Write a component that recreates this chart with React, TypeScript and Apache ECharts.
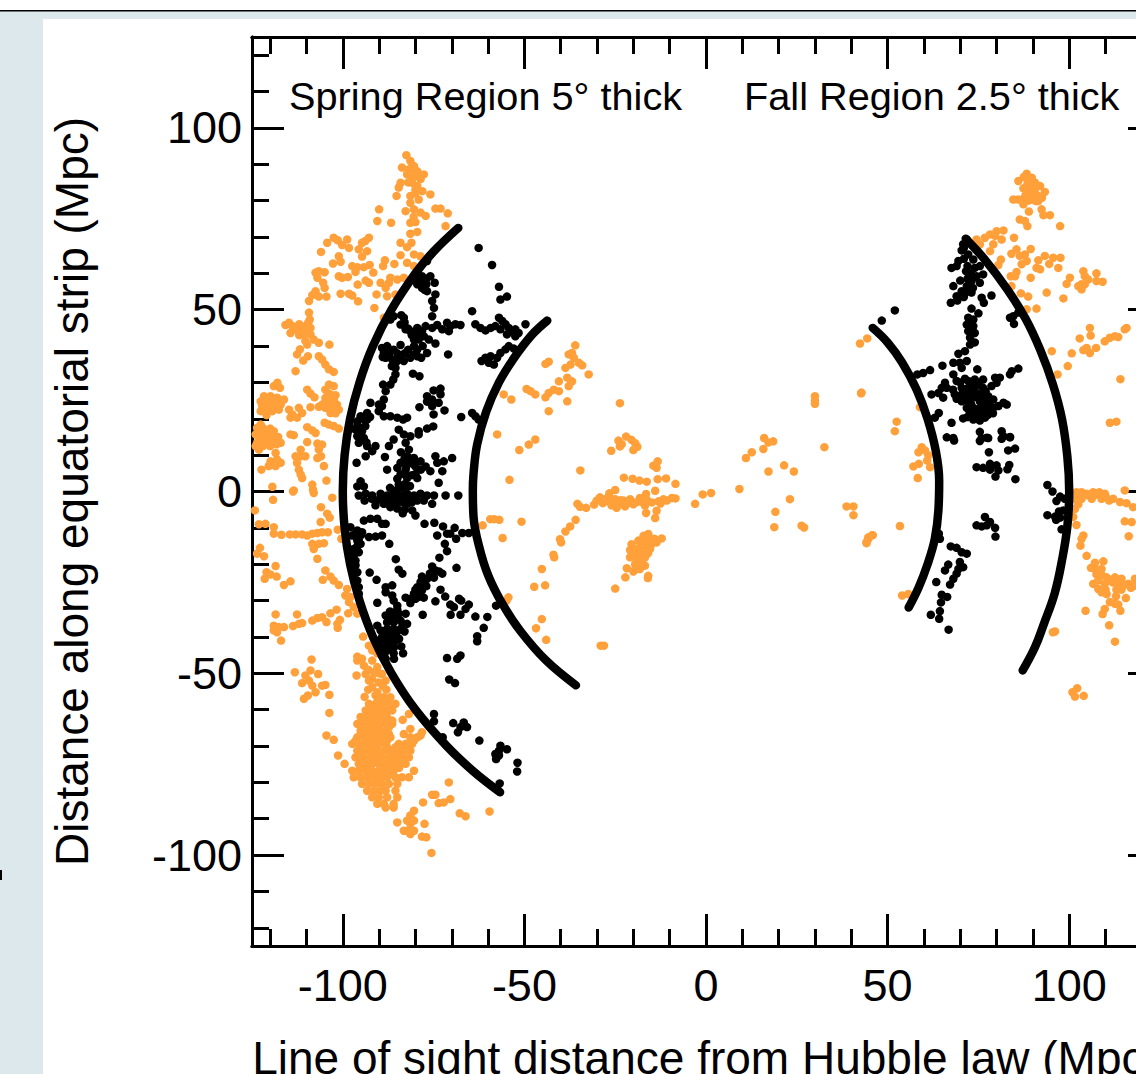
import React, { useEffect, useRef } from "react";
import * as echarts from "echarts";

const majorTicks = [-100, -50, 0, 50, 100];
const minorTicks = [-120, -110, -90, -80, -70, -60, -40, -30, -20, -10, 10, 20, 30, 40, 60, 70, 80, 90, 110, 120];
const xTitle = "Line of sight distance from Hubble law (Mpc)";
const yTitle = "Distance along equatorial strip (Mpc)";
const springLabel = "Spring Region 5° thick";
const fallLabel = "Fall Region 2.5° thick";

const orangeSpringNorth = [
[-82.5,92.5],[-81.4,90.9],[-80.4,89.5],[-83.7,89.1],[-81.8,88.6],[-79.5,88.1],[-77.7,87.2],[-82.3,87.2],[-80.4,86.8],[-78.6,85.9],[-80.9,84.9],[-79.5,84],[-84.1,84.9],[-84.6,83.6],[-85.2,81.3],[-78.1,82.6],[-75.9,81.7],[-81.4,81.3],[-79.1,80.3],[-81.4,79.4],[-82.7,77.1],[-80.4,77.6],[-78.6,76.7],[-77.2,75.8],[-74.5,77.8],[-73.1,77.8],[-71.1,76.5],[-90,77.6],[-90.5,74.4],[-86.7,73.9],[-81.4,73.9],[-80,74.1],[-81.4,70.9],[-79.5,71.4],[-71.7,73],[-84.1,68.4],[-82.3,67.2],[-81.1,68.4],[-84.1,65],[-80.4,65.2],[-78.6,64.7],[-82.3,62.9],[-80.4,62],[-88.4,63.6],[-88.9,62],[-85.8,62.6],
[-102.5,69.8],[-104.3,68.4],[-106,65.9],[-101.4,69.1],[-98.8,69.3],[-100.2,67.8],[-98.3,67],[-95.6,66.6],[-94.7,68.4],[-92.8,69.8],[-93.8,68.9],[-93.3,66.1],[-94.7,64.6],[-101.1,64.7],[-100.6,63.2],[-102.7,62.7],[-97.4,62],[-96,61.7],[-94.2,61.7],[-92.6,62.3],[-96.5,60.4],[-91.6,60.2],[-106.6,60.6],[-107.5,60.2],[-105,60.3],[-107,58.8],[-101.1,59.2],[-100.2,58.8],[-98.6,59],[-93.7,58],[-92.8,57.4],[-95.9,56.9],[-105.4,57.4],[-105,56],[-107.5,55.1],[-108.4,54],[-106.6,53.6],[-104.5,53.6],[-109.3,52.4],[-100.6,54.4],[-98.3,54.4],[-97.4,53.9],[-95.8,52.3],[-91.3,50.5],[-90.7,54.2],[-89.6,57.4],[-88.2,56],[-86.9,58.8],[-85,58.3],[-83.2,58.8],[-87.3,57.4],[-87.8,53.7],[-85.5,54.2],[-88.7,47.8],
[-109.3,49.2],[-109.1,47.3],[-114.8,46.4],[-115.8,45.8],[-113.9,45.5],[-114.4,43.6],[-112.6,45],[-111.6,44.1],[-110.3,45.5],[-108.9,45],[-110.7,43.2],[-108.9,43.2],[-110.3,41.4],[-109.8,40.4],[-108,41.8],[-106.6,40.9],[-103.7,40.4],[-111.8,39.1],[-112.6,37.7],[-109.6,37.2],[-110.9,36],[-106.6,37.2],[-105.7,36.3],[-104.8,34.9],[-103.8,33.6],[-102.5,32.9],[-113,33.1],
[-118,29.9],[-119,29],[-117.3,28.5],[-109.8,28],[-108.9,26.9],[-107.8,25.9],[-103.8,29.4],[-102.5,29],[-104.8,28],[-103.4,26.7],[-104.8,25.7],[-102.5,25.3],[-103.8,24.4],[-105.7,23.9],[-106.6,23.3],[-101.6,23.9],[-101.1,22.5],[-102.9,22.5],[-104.8,23],[-103.4,21.6],
[-121.7,26.2],[-119.9,26.2],[-118.1,25.8],[-116.2,25.3],[-122.6,24.8],[-120.8,24.8],[-119,24.4],[-117.1,23.9],[-122.2,23.5],[-120.4,23],[-118.5,23],[-122.6,22.1],[-121.3,21.9],[-119.4,22.1],[-117.6,22.5],
[-114.8,22.5],[-113.9,21.2],[-112.1,23],[-111.2,21.6],[-108.9,23.2],[-114.4,20.3],[-112.6,20.3],[-103.8,18.4],[-102.5,18],[-101.1,17.3],[-105,18.9],[-109.8,17.7],[-108.4,16.8],[-107.5,16.1],[-114.4,15.7],[-113.5,15.5],[-109.8,13.6],[-107,13.2],[-105.7,12.9],[-106.6,11.5],[-106,9.7],[-107,9.2],[-105.2,7],[-104.5,3],[-108.4,1.9],[-108.2,.5],[-111.6,11.5],[-113,9.7],[-111.6,9.7],[-110.3,9.7],[-112.6,7.9],[-112.1,6],[-111.6,4.7],[-111.2,3.7],
[-122.6,18.4],[-123.6,17.5],[-122.2,16.6],[-124,15.7],[-120.8,16.1],[-119,16.6],[-122.6,14.7],[-120.8,14.7],[-118.5,14.3],[-117.1,13.4],[-123.6,13.4],[-121.7,13.4],[-119.9,13.4],[-123.1,11.5],[-118.5,10.6],[-119.9,8.3],[-118.1,8.8],[-117.1,7.9],[-120.4,7],[-118.5,7],[-122.4,6],[-119.4,1.3],[-113.5,.3],
[-121,25.5],[-119,25.2],[-120,23.9],[-118,24.4],[-121.5,23],[-119.5,22.8],[-117,24.8],[-121,21],[-122,17.5],[-120,17.3],[-121,15.6],[-119,15.3],[-123,14.8],[-122,12.5],[-120,12.5],[-118.2,13],[-117.8,15],[-124,12.5],[-103,24],[-104,27],[-103,22.8],[-102,26.5],[-104.8,24.5],[-102,21.5],[-112,46],[-110,44],[-112,43],[-109.5,46.5],[-113.5,44.5],[-81,86],[-80,83],[-82,85],[-79,86.5],[-81,89],[-80,82],[-80.5,75.5],
];

const orangeSpringSouth = [
[-119.2,-2.3],[-124.2,-5.2],[-113.7,0],[-108,-.4],[-102.9,-1.7],[-106,-4.3],[-104.3,-6.1],[-103.6,-7.2],[-106.1,-8.4],[-101.4,-10.5],[-100.4,-13],
[-123.1,-9],[-121.3,-8.9],[-119,-9.8],[-119,-11.6],[-116.9,-11.9],[-114.6,-11.8],[-113,-11.8],[-111.2,-11.8],[-109.8,-12.1],[-108.4,-11.6],[-107,-11.4],[-105.7,-11.2],[-104.1,-11.2],[-108.4,-14.4],[-106.6,-14.4],[-105.2,-14.2],[-108,-15.8],[-107,-18.5],[-122.8,-15.5],[-123.6,-17.1],[-121.7,-17.8],[-104.8,-21.7],[-103.4,-23.4],[-102.5,-24.5],[-105.5,-24.3],[-101.1,-25.7],[-118.5,-20.5],[-121,-22.2],[-119.9,-22.8],[-118.2,-23.4],[-121.5,-24],[-114.4,-24.7],[-116.2,-25.7],[-98.8,-26.8],[-99.3,-28.6],[-97.9,-29],[-98.3,-30.4],[-97,-31.8],[-96,-33.6],[-98.5,-33.5],[-101.7,-32.5],[-103.4,-33.5],[-105.7,-34.6],[-107,-34.8],[-108.4,-35.5],[-104.5,-35.9],[-100.8,-35.3],[-101.5,-36.4],[-101.4,-37.5],[-112.6,-33.8],[-118.5,-33.8],[-111.2,-36.2],[-112.1,-36.4],[-113.7,-37],[-119,-36.9],[-117.6,-37.3],[-116.2,-37.3],[-119,-38.2],[-118.1,-38.7],[-117,-41],[-94.4,-39.9],
[-92.8,-42.4],[-91.9,-43.7],[-96,-45.4],[-94.7,-46],[-96,-46.5],[-94.2,-47.9],[-91.9,-46.5],[-90.5,-48.3],[-89.2,-50.2],[-91.4,-49.7],[-93.7,-50.2],[-96.2,-50.6],[-91.9,-51.5],[-90.1,-52.5],[-88.2,-52],[-91.9,-53.8],[-90.5,-55.2],
[-113.2,-49.7],[-108.6,-46.2],[-108.9,-49.2],[-110.3,-50.6],[-106.8,-50.2],[-111.2,-52.7],[-109.3,-52],[-108.4,-53.4],[-107.5,-55.2],[-105.7,-53.4],[-104.8,-53.2],[-103.7,-55.9],[-109.6,-56.1],[-110.7,-57],[-103.7,-60.9],[-104.5,-67.1],[-102.5,-68.3],[-101.3,-72.6],[-99.5,-74.9],
[-90.5,-56.6],[-88.7,-56.6],[-86.9,-56.6],[-92.8,-58.4],[-91,-58.4],[-89.2,-58.4],[-87.3,-58.4],[-85.5,-58.4],[-93.7,-60.2],[-91.9,-60.2],[-90.1,-60.2],[-88.2,-60.2],[-86.4,-60.2],[-95.1,-62],[-93.3,-62],[-91.4,-62],[-89.6,-62],[-87.8,-62],[-96,-63.9],[-93.7,-63.9],[-91.9,-63.9],[-90.1,-63.9],[-88.2,-63.9],[-86.4,-63.9],[-95.1,-65.8],[-93.3,-65.8],[-91.4,-65.8],[-89.6,-65.8],[-87.8,-65.8],[-96,-67.6],[-94.2,-67.6],[-92.4,-67.6],[-90.5,-67.6],[-88.7,-67.6],[-86.9,-67.6],
[-97.4,-69.4],[-95.6,-69.4],[-93.7,-69.4],[-91.9,-69.4],[-90.1,-69.4],[-88.2,-69.4],[-84.6,-69.4],[-82.7,-69.4],[-80.9,-69.4],[-96,-71.3],[-94.2,-71.3],[-92.4,-71.3],[-90.5,-71.3],[-88.7,-71.3],[-86.9,-71.3],[-85,-71.3],[-83.2,-71.3],[-81.4,-71.3],[-96.5,-73.1],[-94.7,-73.1],[-92.8,-73.1],[-91,-73.1],[-89.2,-73.1],[-87.3,-73.1],[-85.5,-73.1],[-83.7,-73.1],[-81.8,-73.1],[-95.6,-74.9],[-93.7,-74.9],[-91.9,-74.9],[-90.1,-74.9],[-88.2,-74.9],[-86.4,-74.9],[-84.6,-74.9],[-82.7,-74.9],
[-97.4,-76.8],[-95.6,-76.8],[-93.7,-76.8],[-91.9,-76.8],[-90.1,-76.8],[-88.2,-76.8],[-86,-76.8],[-80.4,-76.8],[-97,-78.6],[-95.1,-78.6],[-93.3,-78.6],[-91.4,-78.6],[-89.6,-78.6],[-87.8,-78.6],[-85.5,-78.6],[-83.7,-78.6],[-81.8,-78.6],[-94.7,-80.4],[-92.8,-80.4],[-91,-80.4],[-89.2,-80.4],[-87.3,-80.4],[-85,-80.4],[-93.3,-82.3],[-91.4,-82.3],[-89.6,-82.3],[-88.2,-82.3],[-85.5,-82.3],[-91.9,-84.1],[-90.1,-84.1],[-87.8,-84.1],[-85,-84.1],[-90.5,-85.9],[-88.7,-85.9],[-86,-85.9],[-88.2,-86.9],[-86,-86.9],
[-81.8,-61.2],[-83.5,-62.8],[-86.4,-63],[-81.4,-65.3],[-83.2,-66.7],[-81.4,-67.6],[-79.5,-67.6],[-78.2,-66.2],[-78.6,-67.1],[-80.4,-68.5],
[-70.8,-80],[-75.4,-83.4],[-74.5,-83.4],[-77.9,-85.5],[-73.6,-85.7],[-72.2,-85.5],[-70.4,-84.6],[-67.8,-88.5],[-66.2,-89.3],[-59.6,-88],[-85,-91],[-80.4,-87.8],[-81.4,-89.1],[-82.3,-90.5],[-80.4,-90.5],[-83.2,-93.3],[-81.4,-91.4],[-82.3,-93.3],[-80.4,-93.3],[-81.4,-94.2],[-77.5,-91.4],[-78.2,-94.9],[-77,-95.1],[-75.6,-99.4],
[-89.6,-57.5],[-87.8,-57.5],[-91.9,-59.3],[-89.6,-59.3],[-86.9,-59.3],[-92.8,-61],[-90.5,-61],[-88.2,-61],[-94.2,-63],[-92,-63],[-89.6,-63],[-87.3,-63],[-94.7,-64.8],[-92.4,-64.8],[-90,-64.8],[-87.3,-64.8],[-95,-66.7],[-92.4,-66.7],[-89.6,-66.7],[-87.3,-66.7],[-96.5,-68.5],[-93.3,-68.5],[-90.5,-68.5],[-87.8,-68.5],[-85.5,-70.3],[-83.7,-70.3],[-81.8,-70.3],[-87.8,-70.3],[-92,-70.3],[-94.8,-70.3],[-95.3,-72.2],[-92.5,-72.2],[-89.5,-72.2],[-86.5,-72.2],[-84,-72.2],[-95,-75.9],[-92.5,-75.9],[-89.5,-75.9],[-87,-75.9],[-92,-77.7],[-89,-77.7],[-86.5,-77.7],[-84.5,-76],
[-90.5,-44.5],[-93,-49],[-90,-50],[-92.8,-52],[-89,-53.5],[-93,-54.5],[-91,-56],[-94,-56.5],[-88,-54.5],
];

const orangeCentre = [
[-55.7,26.7],[-53.6,25.3],[-57.5,15.7],[-49.4,28.2],[-48.3,27.6],[-47,26.7],[-44.2,25.9],[-43.3,27.1],[-41.9,28],[-40.5,27.6],[-40.5,30.3],[-38.2,31.3],[-36.9,30.3],[-37.8,29],[-38.2,24.8],[-43.3,22.1],[-32.3,32.2],[-44.2,35.1],[-43.3,35.7],[-38.7,34],[-37.3,34.9],[-37.8,37.7],[-36,40.2],[-36.4,36.8],[-35,35.4],[-34.1,34.7],[-36.9,38.1],[-47,14.3],[-48.8,12.9],[-51.4,11.4],[-34.6,5.8],[-54.1,3.2],
[-23.7,24.3],[-24.1,14],[-23.2,13],[-23.7,12.4],[-26.1,11.2],[-22,15.1],[-20.5,14.2],[-19.5,13.3],[-18.9,12.3],[-20,11.4],[-14.5,7.1],[-13.3,8.3],[-13.6,6.5],[-22.6,3.8],[-20.2,3.5],[-18.3,3],[-16.3,2.7],[-13.3,3.4],[-11,3.6],[-8.4,2.1],[-14,.2],[-25,.4],[-26.6,-.5],
[-35.4,-3.4],[-34.7,-4.2],[-33,-4.5],[-30.8,-3.6],[-30.1,-2.5],[-29.2,-1.6],[-28.4,-3.2],[-26.9,-2.7],[-25,-2.1],[-24.1,-3.3],[-24.6,-4.5],[-22.7,-2.5],[-22.3,-4.1],[-20.9,-2.1],[-19.3,-3],[-18.2,-1.8],[-16.5,-.7],[-16.3,-2.3],[-16.8,-3.9],[-16.5,-5.9],[-14.9,-3],[-13.6,-5.3],[-14,-7.3],[-13.1,-2.7],[-11.7,-2.1],[-10.8,-2.5],[-9.4,-1.8],[-8.4,-1.9],[-3,-3.4],[-.9,-.8],[1.4,-.4],[9.2,.7],
[-35.9,-7.8],[-37.4,-9.6],[-38.7,-11],[-40.2,-13.1],[-39.9,-14],[-42,-17.4],[-41.8,-18.1],[-45.2,-21.3],[-47.3,-26.2],[-44.3,-25.8],[-54.4,-29.1],[-54.9,-30],[-45.2,-35.1],[-46.8,-37.6],[-44,-40.8],[-29,-42.4],[-28.1,-42.4],[-58.3,-7.6],[-56.9,-7.8],[-59.4,-7.6],[-61.5,-9.3],[-50.8,-8.3],[-56,-12.8],
[-15.9,-11.7],[-17.2,-12.2],[-12.2,-12.9],[-13.6,-14],[-15,-14.5],[-16.8,-14],[-18.6,-13.5],[-20.5,-14.5],[-20.9,-16.1],[-19.1,-15.8],[-17.2,-16.3],[-15.4,-15.8],[-20.9,-18.1],[-18.2,-17.7],[-16.8,-18.1],[-18.2,-19.5],[-19.5,-20],[-16.8,-20.4],[-21.8,-21.1],[-20,-22],[-18.2,-21.3],[-22.2,-23.6],[-15.9,-23.2],[-16,-23.8],[-25,-26.7],
[30,26.2],[30,25],[30,24.1],[42.8,27.2],[32.6,12.2],[16,14.7],[17.2,13.5],[18.5,13.8],[15.8,11.7],[12.6,10.8],[11,9.2],[21.5,7.2],[17.2,5.5],[24.2,5.5],[23.1,-2.1],[19.1,-5.6],[18.8,-9.8],[26.3,-9.4],[27,-9.9],[38.7,-4.1],[40.6,-4.1],[40.6,-6.5],[45.9,-12],[44.7,-12.6],[44.2,-14.2],
[-18,-15],[-17,-17],[-19,-18.5],[-17.5,-19.5],[-19.5,-17],[-16,-17],[-18.5,-20.5],[-17,-14.7],[-15.5,-13.2],[-14.2,-13],[-19.5,-21.5],[-27,-1.6],[-21.5,-3.2],[-23.5,-2.4],[-18,-2.8],[-12.5,-3.3],[-20,-3.5],[-26,-3.8],
];

const orangeFall = [
[88.3,87.4],[89.7,86.3],[86,85.4],[88.7,85.4],[90.6,84.9],[92,84],[87.4,83.4],[89.2,83.1],[93.3,82.4],[90.1,81.7],[91.5,81.3],[84.6,80.3],[86,80.3],[87.8,80.8],[89.7,80.3],[91.5,79.9],[87.4,79],[92.4,77.6],[88.9,77],[92.9,76],[94.7,76],[86.4,74.8],[87.8,74.4],[88.5,73],[97.5,73],
[81.9,71.8],[80,71.6],[78.2,70.7],[79.6,70.3],[81.4,69.3],[84.8,69.8],[76.8,69.8],[74.5,69.3],[75.4,68],[79.1,68],[78.2,66.1],[81.2,63.8],[80.5,62.3],
[89.4,66.7],[85.5,66.6],[84.1,65.4],[86.4,64.8],[87.8,65.2],[93.3,64.8],[95.6,64.3],[97.6,64.3],[88.3,63.4],[86.9,62.5],[91.5,63.6],[91,61.5],[92,61.1],[94.5,62.6],[97,61.5],[85.5,60.4],[83.9,59.2],[85.1,59.2],[89.4,58.8],
[103.9,60.6],[104.3,59.2],[107.5,60],[100.2,58.8],[99.3,57.1],[105.2,58.3],[103.4,57],[102.5,56.5],[104.3,57],[107.5,57.9],[109.2,57.7],[103.4,55.6],
[84.1,56.5],[86.7,54.5],[88.7,53.6],[93.8,54.7],[98.4,53.1],[91,50.3],[88.3,50.1],
[105.7,45],[105.9,42.9],[102.9,42.1],[115.8,45],[115.3,44.6],[112.6,42.7],[111.2,42.3],[109.8,41.3],[113.5,42.5],[107.4,39.5],[104.8,39.5],[103.9,38.9],[105.7,38.1],[100.7,38],[95.2,38.6],[99.6,34.5],[96.8,32.2],[114.1,30.9],[111.2,18.9],[113,19.2],
[44.4,42.1],[42.4,40.7],[42.7,27],[52.5,19.2],[52,16.6],[58.9,23.2],
[59.4,12.2],[58.5,10.8],[60.3,11.3],[61.2,10],[60.9,8.5],[61.7,6.7],[58.6,7.6],[57.1,6.9],[58.3,3.7],[53.4,-9.5],[45.8,-12],[44.2,-13.9],[44.7,-13],[54,-28.6],[55.7,-28.2],
[96.1,-38.5],[95.5,-38.7],[100.9,-55.2],[102.2,-54.1],[101.6,-56.4],[104,-56.2],
[102,-.2],[103.4,-.2],[104.8,-.6],[106.6,-.2],[108.3,-.2],[109.8,-.6],[115.3,.3],[101.6,-2],[103.4,-2],[106.2,-2],[108.9,-2],[112.1,-2],[114,-2.9],[115.8,-3.2],[117.6,-4.3],[101.6,-4.8],[101.1,-7],[102,-9.2],[115.3,-8.2],[117.2,-8.4],[116.4,-12.3],[103.9,-12.1],[103.4,-13],[103.1,-14.9],[104.8,-17.7],
[107.1,-19.6],[109.4,-19.2],[107.1,-21.3],[108.9,-21.3],[107.5,-22.8],[110.3,-23.6],[112.6,-23.6],[114.4,-24],[118.1,-24],[106.6,-25.4],[108,-26.8],[109.8,-25.4],[113.5,-25.4],[116.3,-25.4],[118.1,-25.9],[114.4,-27],[108.9,-27.7],[110.3,-28.2],[112.9,-28.8],[115.6,-29.3],[111.2,-30.4],[112.6,-30.9],[113.5,-31.1],[109.8,-32.3],[104.5,-32.8],[114.1,-32.8],[109.2,-33.7],[111,-36.8],[112.6,-41.3],
[89,82],[90.5,82.5],[88,81.5],[90,83.7],[88.5,84.5],[87.5,86.5],[88.8,80],[90.8,79.9],[92.5,80.8],[111,-24.5],[108,-24.5],[115,-25.8],[117,-26.5],[112,-25],[109,-23],[106,-21],[110,-27],[113,-27],[105,-1],[107,-1],[103,-1],[102.5,-3.5],[110,-1.2],[111,-2.5],
];

const blackSpring = [
[-62.6,67],[-58.9,62.3],[-57,56.3],[-54.8,53.6],[-56.6,52.8],[-64.4,49.6],[-49.7,46],
[-63.5,46],[-62.1,45],[-60.7,44.3],[-59.3,45],[-58,45.5],[-57,47.8],[-56.1,46.9],[-55.2,46],[-56.6,44.6],[-54.3,45],[-53.4,44.1],[-54.8,43.2],[-52.5,44.6],[-51.6,43.6],[-52.5,42.7],[-54.3,40],[-52.9,39.3],[-55.2,39.1],[-56.6,38.1],[-57.5,36.8],[-59.3,37.2],[-60.7,36.8],[-61.8,35.9],[-59.8,35.4],[-58.4,34.9],
[-77.2,45.5],[-75.4,45],[-74,45.8],[-72.6,44.6],[-71.3,46.4],[-70.4,45.5],[-70.8,44.1],[-69,46],[-67.6,45.8],
[-83.9,48.5],[-86.9,47.3],[-86,48.2],[-83.2,47.8],[-84.1,45.9],[-82.7,44.6],[-81.4,44.1],[-79.5,45],[-78.2,44.1],[-80,43.2],[-77.7,42.7],[-80.4,41.8],[-79.1,41.8],[-76.3,41.8],[-74.5,40.7],[-80.4,40],[-79.5,39],[-76.8,38.1],[-71,37.7],[-84.1,40.3],[-89.2,39.5],[-87.8,40],[-88.7,38.1],[-87.3,37.7],[-88.2,36.8],[-86.4,36.3],[-85,35.9],[-83.2,35.9],[-81.4,36.8],[-79.5,37.2],[-78.4,36.8],[-80.4,37.7],[-85.5,34],[-80.7,32.4],[-78.9,31.7],[-85.5,32.2],[-86.1,30.8],[-88.9,29.4],[-86.9,29.4],[-88.2,27.6],[-88.7,25.3],[-90.1,23.9],[-92.4,24.4],[-89.2,23.5],[-90.1,22.1],[-88.7,20.7],[-86.9,20.7],[-85,20.3],[-83.4,19.8],[-82.3,20.3],
[-80,58.8],[-78.2,59.2],[-75.9,59.2],[-79.5,57],[-78.2,56],[-76.8,55.1],[-74.7,57.4],[-74.5,54.2],[-75.4,52.4],[-74.9,50.5],[-75.4,48.2],[-76.8,63.4],
[-73.1,28.3],[-75,27.8],[-73.1,26.7],[-76.8,26.2],[-75.4,25.3],[-76.8,24.7],[-73.6,24.4],[-75.4,23.5],[-72,22.3],[-75,21.2],[-78.9,23.2],[-67.4,20.5],[-64.4,21.6],[-63.5,20.7],[-62.6,19.8],
[-93.3,21.6],[-95.1,20.7],[-93.3,19.8],[-96,19.3],[-93.8,18],[-96.5,17],[-94.7,16.6],[-96,15.2],[-94.2,14.7],[-95.6,13.4],[-93.3,12.5],[-91,12.5],[-91.9,11.1],[-93.7,9.7],[-96.2,7.9],[-88.4,9.5],[-87.8,6],
[-87.3,12.5],[-86,14.3],[-84.6,17],[-83.2,15.7],[-81.4,15.2],[-79.1,16.6],[-76.8,17.3],[-75.1,17.9],[-79.1,15.7],[-82.7,13.4],[-81.8,11.5],[-82.3,9.7],[-80.4,9.2],[-84.1,7.9],[-81.8,7.9],[-78.6,8.3],[-85,6.5],[-82.7,6],[-80,6.9],[-77.2,6.9],[-75.9,5.6],[-84.1,4.7],[-82.3,3.7],[-79.5,3.7],[-84.6,1.9],[-83.2,.9],[-95.1,2.8],[-96,1.4],[-94.2,1.4],[-74.5,9.7],[-74,7.9],[-72.2,8.3],[-69.9,9.2],[-72.6,5.6],[-73.6,2.4],
[-95.6,-1.1],[-93.7,-.6],[-91.9,-1.1],[-89.6,-.6],[-87.8,-1.1],[-86,-.6],[-84.1,-1.1],[-82.3,-.6],[-80.4,-1.1],[-78.6,-.6],[-76.8,-1.1],[-74.9,-1.1],[-71.7,-1.1],[-68.2,-1.1],[-91,-3.8],[-88.7,-3.4],[-86.9,-2.5],[-85,-2.5],[-86.9,-4.3],[-85,-4.7],[-82.3,-3.4],[-80.9,-5.2],[-80,-6.6],[-75.4,-3.4],[-77.7,-2.5],
[-94.2,-8],[-92.4,-7.5],[-90.5,-7.5],[-89.2,-8.9],[-88.2,-8.9],[-77.5,-8.9],[-74.8,-8.6],[-72.4,-9.6],[-69.2,-10],[-74,-12.1],[-71.3,-11.6],[-70.4,-11.6],[-68.8,-13],[-67.1,-11.4],[-65.3,-11.4],[-71.9,-14.4],[-71.3,-16.4],[-73.4,-18.2],[-85.4,-18.6],[-87.2,-14.4],
[-97.9,-9.8],[-96,-10.7],[-97.4,-12.1],[-94.7,-11.2],[-95.6,-13],[-92.8,-12.5],[-91,-12.4],[-89.2,-12.1],[-97,-15.8],[-95.1,-14.4],[-95.6,-16.7],[-97,-17.6],[-96.5,-20.3],[-96,-22.2],[-92.6,-22.3],[-90.7,-24.3],[-96,-24.5],[-95.6,-26.3],[-95.6,-28.1],[-90.5,-30.6],
[-84.6,-21.5],[-83.6,-22.6],[-68.7,-21],
[-75.4,-20.6],[-74.5,-21.7],[-72.6,-22.6],[-74.9,-23.7],[-76.8,-24],[-78.2,-23.4],[-78.6,-24.9],[-79.5,-26.3],[-78.2,-27.2],[-80.4,-28.1],[-79.1,-29],[-81.4,-29.5],[-82.7,-29.2],[-77.7,-29.2],[-81.4,-30.7],
[-88.2,-26.3],[-86.4,-25.8],[-88.2,-27.7],[-86.4,-28.6],[-86,-30],[-85,-31.4],[-86.4,-33.6],[-84.6,-33.6],[-82.7,-33.6],[-88.2,-34.1],[-87.8,-36],[-86,-36],[-84.1,-35.5],[-82.3,-36.4],[-89.6,-38.2],[-87.8,-37.8],[-86,-37.8],[-84.1,-37.8],[-89.2,-40],[-87.3,-39.6],[-85.5,-39.6],[-90.5,-36.9],[-88.7,-41.9],[-86.9,-41.4],[-87.8,-43.7],[-85.9,-42.8],[-83.9,-42.6],[-83.4,-44.5],[-85.9,-46],[-88.2,-46],
[-78,-33.9],[-73.1,-27],[-71.8,-28.9],[-74.5,-30.2],[-70.4,-31.1],[-69.4,-31.8],[-68,-29.5],[-67.4,-30],[-65.3,-31.1],[-66.2,-32.3],[-67.6,-33.9],[-70.3,-33.9],[-63.5,-34.4],[-60.2,-34.5],[-61.2,-37.5],[-63,-39.8],[-63,-41.2],[-57.8,-31.4],
[-71.3,-45.8],[-67.6,-45.1],[-68.5,-46],[-70.7,-51.7],[-69.1,-52.7],[-74.9,-61.2],[-74.9,-63.2],[-69.6,-63.7],[-66.7,-63.5],[-67.6,-64.8],[-65.8,-64.8],[-68.3,-66.2],[-72.5,-67.6],[-62.4,-68.5],[-56.6,-69.9],[-54.8,-70.9],[-57,-71.3],[-58,-72.2],[-57,-72.6],[-57.8,-73.6],[-51.9,-74.6],[-52,-77],[-56.8,-80.3],
[-86,39],[-85,38],[-83,38],[-82,39],[-80.5,42.8],[-79,43.5],[-81,43],[-86.5,34.5],[-84,37],[-78,40],[-82,44.8],[-87,39],[-89,37],[-83,46.5],
[-88.5,-2],[-86,-1.8],[-84,-2.5],[-83,-1.5],[-87,1],[-85,.5],[-83,2],[-81.5,1.5],[-81,4.5],[-83,5],[-85,3.5],[-83.5,-3],[-85.5,-3.8],[-82,-2],[-79.5,-2.5],[-81,-3],[-83,-5],[-82.5,7],[-83,9],[-84,10.8],[-81,9],[-80.5,7.5],[-78.5,6],[-80,4.8],[-86,-4],[-83.5,-6],[-92,-2],[-90,-2.2],[-94,-2.5],
[-87,-35],[-85,-35],[-83.5,-36.5],[-86.5,-38.5],[-85,-38.5],[-88.5,-38.5],[-87,-40.5],[-85.5,-41],[-88,-40.5],[-90,-41],[-89,-43],[-87,-43],[-86,-44.5],[-88.5,-44.5],[-84.5,-40.5],[-83,-38.5],[-87,-33],[-85,-32.5],
[-94.5,20],[-96,18],[-95,17.5],[-95,15.5],[-93.5,13.5],[-92.5,20.5],[-95,-12],[-96.5,-11.5],[-96,-13.5],[-96,-15],[-96.5,-19],
[-79,58.5],[-78.5,57.5],[-77,57],[-77,58.5],[-77.5,55.5],[-79,-28],[-80,-27],[-78,-25.5],[-77,-26],[-80,-29.5],[-76,-22.5],[-73.5,-22],
];

const blackFall = [
[52,49.8],[48.4,47],
[71.8,69.3],[70.8,68],[70.4,66.3],[72.2,65.2],[69.5,63.4],[67.6,61.5],[69,62],[71.6,60.6],[73.6,63.8],[74,61.5],[75.4,62],[76.3,59.7],[74.5,59.2],[73.1,57.9],[75.4,57.4],[68.1,56.5],[71.8,56.5],[70.4,55.1],[69,53.7],[73.1,54.7],[75.9,53.3],[76.5,51.9],[78.6,53.9],[67.4,51.9],[69.2,52.5],
[73.1,50.3],[75,49],[72.2,47.8],[73.6,47.3],[71.8,45.9],[73.6,45.5],[72.2,44.1],[74,43.6],[72.7,42.3],[72.7,40.4],[71.3,38.6],[69.5,37.9],[68.1,35.4],[69.9,35.4],[71.8,35.9],[70.4,34],[65.1,34.6],[74.7,33.6],
[84.6,48.2],[86,49.2],[83.7,47.8],[84.8,46.1],[58.2,32.2],[59.8,32.6],[61.7,33.4],[86,33.8],[84.2,33.1],[83.7,32.2],
[68.1,32.2],[69,30.4],[65.8,29.9],[64.9,28.5],[66.3,28.5],[64,27.1],[62.1,26.7],[65.3,25.8],
[72.2,30.4],[74,30.8],[76.3,30.8],[79.6,31.3],[80.9,31.3],[80,29.9],[78.6,29],
[70.4,28.5],[72.2,28.5],[74,28.5],[76.3,28.5],[68.5,26.7],[70.4,26.7],[72.2,26.7],[75.9,27.1],[77.7,26.2],
[70.4,24.8],[72.2,24.8],[75.4,24.8],[77.3,24.8],[79.1,25.3],
[71.8,23],[73.6,23],[75.4,23],[77.3,23],[79.1,23],[80.5,23.5],[81.9,24.4],[82.8,23.9],
[72.7,21.6],[74.5,21.2],[76.3,21.2],[78.2,22.1],[70.8,20.1],[73.6,19.8],[75.4,19.5],[76.8,20.3],
[64.1,21.6],[63,20.3],[67.6,18.9],
[66.3,14.9],[68.1,14.7],[75.4,16.4],[81.4,16.6],[81.9,15.2],[83.7,14.9],[77.7,14.7],[75.9,14.6],
[68.3,14],[75.4,13.9],[77.3,14.8],[81.4,14.5],[83.7,15],[83.2,11.3],[85.1,11.8],[77.9,10.8],
[74.5,6.7],[76.3,6.5],[78.2,7.6],[78.2,6],[80,7.2],[80.5,5.8],[79.7,4.1],[83.5,7.3],[83,6.1],[85.2,3.4],
[94,1.8],[95.4,0],[97.5,-1.4],[96.5,-2.6],[98.8,-2],[94,-6.5],[97.2,-5.5],[96.1,-6.9],[97.5,-7.2],[98.4,-5.2],[96.4,-7.8],[97.9,-10.4],
[76.8,-7],[74.5,-9.3],[75.9,-9.6],[77.3,-9.3],[78.2,-8.4],[79.6,-10],[79.7,-12.4],
[64.1,-11.6],[64.4,-13],[67.4,-15.1],[69,-15.5],[70.4,-16.7],[71.8,-17.1],[69.9,-19.4],[70.8,-20.8],[69.5,-21.3],[66.7,-20.1],[65.8,-21.7],[69,-22.6],[68.1,-24],[67.2,-25.6],[63.4,-24.9],[64.9,-28.4],[66.4,-29],[64.7,-30.5],[64.4,-32.9],[61.9,-33.9],[64.2,-35],[66.8,-38],
[73,25.5],[74.5,26],[71,25.5],[73,24],[74,22.5],[72.5,22.3],[75.5,21.8],[74,27.5],[71,27.5],[73,29.5],[75,29.5],[77,27.5],[76.5,25.8],[78,24],[74.5,20],[72,20.5],[77.5,21],[69,25.5],[68,28],[70,30],[71.3,31],[76,23.9],[73.5,30],[79,21.5],
[72,62],[73,60],[72,58.5],[73.5,56],[72,55],[71,53.5],[74,59],[70,58],[71,64],[71,67],[72.5,47],[73,44.5],[74,41],
];

// Boundary arcs
const springOuter = [[-68.2,72.5],[-75,66],[-80,60],[-86.6,50],[-91.7,40],[-95.4,30],[-98,20],[-99.5,10],[-100,0],[-99.5,-10],[-98,-20],[-95.4,-30],[-91.7,-40],[-86.6,-50],[-80,-60],[-71.4,-70],[-64,-77],[-56.7,-82.7]];
const springInner = [[-43.7,47],[-48,43],[-53,36.5],[-57,30],[-60.5,22],[-63,13],[-64,5],[-64.2,0],[-64,-7],[-62.5,-15],[-60,-23],[-56,-31],[-51,-38.5],[-44,-46.5],[-35.8,-53.3]];
const fallInner = [[45.9,45],[50,41],[54,35.5],[58,28],[61,20],[63.3,11],[64.2,3],[64,-5],[63,-13],[61,-20],[58.5,-26.5],[55.8,-31.9]];
const fallOuter = [[71.5,69.5],[77,63.5],[83,55.5],[88,47.5],[92,39],[95.5,29.5],[98,20],[99.5,9.5],[100,0],[99.5,-9.5],[98,-19],[96,-28],[93,-36.5],[90.5,-43],[87.2,-49.2]];

const FONT = '"Liberation Sans", Arial, sans-serif';

const axisBase = {
  type: "value" as const,
  min: -125,
  max: 125,
  splitLine: { show: false },
  axisLine: { show: true, onZero: false, lineStyle: { color: "#000", width: 3 } },
};

function xAxisOf(position: string, values: number[], length: number, labelled: boolean) {
  return {
    ...axisBase,
    position,
    name: labelled ? xTitle : undefined,
    nameLocation: "middle",
    nameGap: 89,
    nameTextStyle: { fontFamily: FONT, fontSize: 46, color: "#000" },
    axisTick: { show: true, inside: true, length, customValues: values, lineStyle: { color: "#000", width: 3 } },
    axisLabel: labelled
      ? { show: true, customValues: majorTicks, margin: 17, fontFamily: FONT, fontSize: 45, color: "#000", showMinLabel: true, showMaxLabel: true }
      : { show: false },
  };
}

function yAxisOf(position: string, values: number[], length: number, labelled: boolean) {
  return {
    ...axisBase,
    position,
    name: labelled ? yTitle : undefined,
    nameLocation: "middle",
    nameGap: 157,
    nameRotate: 90,
    nameTextStyle: { fontFamily: FONT, fontSize: 46, color: "#000" },
    axisTick: { show: true, inside: true, length, customValues: values, lineStyle: { color: "#000", width: 3 } },
    axisLabel: labelled
      ? { show: true, customValues: majorTicks, margin: 10, fontFamily: FONT, fontSize: 45, color: "#000" }
      : { show: false },
  };
}

function scatter(name: string, data: number[][], color: string) {
  return { type: "scatter", name, data, symbol: "circle", symbolSize: 8.5, itemStyle: { color, opacity: 1 }, z: color === "#000" ? 3 : 2, silent: true };
}

function arc(name: string, data: number[][]) {
  return {
    type: "line",
    name,
    data,
    smooth: 0.4,
    showSymbol: false,
    symbol: "none",
    clip: false,
    silent: true,
    z: 4,
    lineStyle: { color: "#000", width: 8.5, cap: "round", join: "round" },
  };
}

export default function App() {
  const ref = useRef<HTMLDivElement>(null);
  useEffect(() => {
    document.body.style.margin = "0";
    const chart = echarts.init(ref.current!, undefined, { renderer: "svg" });
    chart.setOption({
      animation: false,
      backgroundColor: "#ffffff",
      grid: { left: 252, top: 37, width: 908, height: 909, containLabel: false, outerBoundsMode: "none" },
      xAxis: [
        xAxisOf("bottom", majorTicks, 32, true),
        xAxisOf("bottom", minorTicks, 17, false),
        xAxisOf("top", majorTicks, 32, false),
        xAxisOf("top", minorTicks, 17, false),
      ],
      yAxis: [
        yAxisOf("left", majorTicks, 32, true),
        yAxisOf("left", minorTicks, 17, false),
        yAxisOf("right", majorTicks, 32, false),
        yAxisOf("right", minorTicks, 17, false),
      ],
      graphic: [
        { type: "rect", z: -10, silent: true, shape: { x: 0, y: 11, width: 1136, height: 1063 }, style: { fill: "#dde8ed" } },
        { type: "rect", z: -9, silent: true, shape: { x: 43, y: 19, width: 1093, height: 1055 }, style: { fill: "#ffffff" } },
        { type: "rect", z: -8, silent: true, shape: { x: 0, y: 10, width: 1136, height: 1.5 }, style: { fill: "#000000" } },
        { type: "rect", z: -8, silent: true, shape: { x: 0, y: 870, width: 2, height: 10 }, style: { fill: "#000000" } },
        { type: "text", z: 10, silent: true, x: 289, y: 96, style: { text: springLabel, font: `39.7px ${FONT}`, fill: "#000", verticalAlign: "middle", align: "left" } },
        { type: "text", z: 10, silent: true, x: 744, y: 96, style: { text: fallLabel, font: `39.7px ${FONT}`, fill: "#000", verticalAlign: "middle", align: "left" } },
      ],
      series: [
        scatter("Spring north", orangeSpringNorth, "#ffa03a"),
        scatter("Spring south", orangeSpringSouth, "#ffa03a"),
        scatter("Centre", orangeCentre, "#ffa03a"),
        scatter("Fall", orangeFall, "#ffa03a"),
        scatter("Spring strip", blackSpring, "#000"),
        scatter("Fall strip", blackFall, "#000"),
        arc("Spring outer", springOuter),
        arc("Spring inner", springInner),
        arc("Fall inner", fallInner),
        arc("Fall outer", fallOuter),
      ],
    });
    return () => chart.dispose();
  }, []);
  return (
    <div style={{ width: 1136, height: 1074, overflow: "hidden", position: "absolute", left: 0, top: 0 }}>
      <div ref={ref} style={{ width: 1136, height: 1074 }} />
    </div>
  );
}
